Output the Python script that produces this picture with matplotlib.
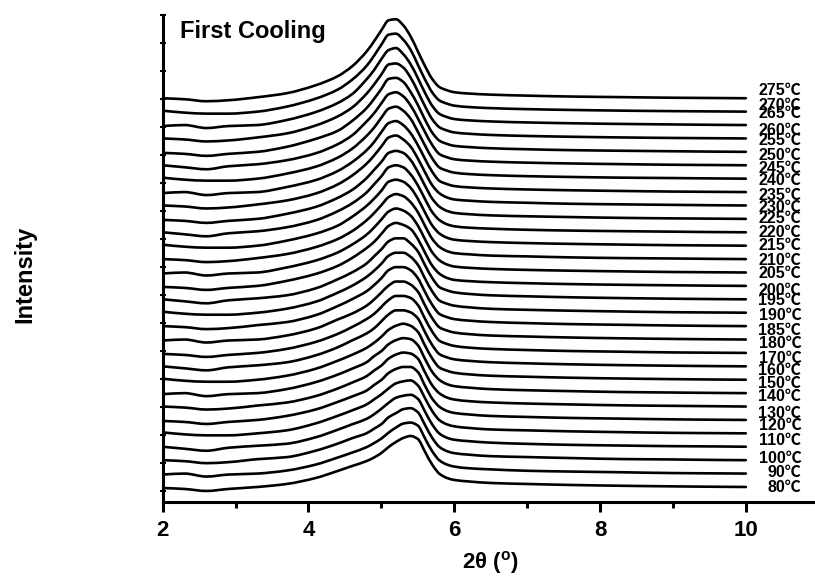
import numpy as np
import matplotlib
matplotlib.use('Agg')
import matplotlib.pyplot as plt
from matplotlib.path import Path
from matplotlib.patches import PathPatch

plt.rcParams['font.family'] = ['Liberation Sans', 'Noto Sans CJK SC', 'DejaVu Sans']
plt.rcParams['font.weight'] = 'bold'
plt.rcParams['mathtext.fontset'] = 'custom'
plt.rcParams['mathtext.rm'] = 'Liberation Sans:bold'
plt.rcParams['mathtext.bf'] = 'Liberation Sans:bold'

# 2theta sampling (deg)
two_theta = [2.0, 2.3, 2.6, 2.9, 3.3, 3.7, 4.1, 4.4, 4.6, 4.8, 4.9, 5.0, 5.1, 5.2, 5.3,
             5.4, 5.5, 5.6, 5.7, 5.8, 5.9, 6.0, 6.2, 6.5, 7.0, 7.6, 8.3, 9.0, 9.6, 10.0]

temps = [80, 90, 100, 110, 120, 130, 140, 150, 160, 170, 180,
         185, 190, 195, 200, 205, 210, 215, 220, 225, 230, 235,
         240, 245, 250, 255, 260, 265, 270, 275]

# intensity (a.u.), bottom (80C) to top (275C)
intensity = [
    [-1, -2, -4, -2, 0, 3, 9, 16, 21, 26, 29.5, 34, 40, 45, 49, 51, 48, 35, 22, 13, 9, 7, 5.5, 4.0, 3.0, 2.0, 1.2, 0.6, 0.2, 0],
    [-1, 0, -3, -1, 0, 3, 9, 16, 21, 26.5, 30.5, 35, 41, 46, 50, 51, 48, 35, 22, 13, 9, 7, 5.3, 4.2, 2.8, 2.0, 1.3, 0.5, 0.2, 0],
    [0, -1, -3, -2, 1, 3, 9.5, 16.5, 22, 27, 31.5, 36, 43, 47, 51, 52, 48, 35, 22, 13, 9, 7, 5.5, 4.0, 3.1, 2.1, 1.1, 0.7, 0.2, 0],
    [0, -2, -4, -1, 1, 3, 9.5, 17, 22.5, 28, 32.5, 38, 44, 49, 51, 52, 48, 35, 22, 13, 9, 7, 5.6, 4.1, 2.9, 1.9, 1.2, 0.6, 0.3, 0],
    [1, -1, -2, -2, 0, 3, 10, 17.5, 23, 29, 34, 39, 45, 50, 52, 53, 48, 35, 22, 13, 9, 7, 5.4, 3.9, 3.0, 2.0, 1.2, 0.5, 0.2, 0],
    [-1, -2, -4, -2, 0, 4, 10.5, 18, 23.5, 29.5, 35, 40, 47, 51, 53, 53, 48, 34, 21, 13, 9, 7, 5.5, 4.0, 3.0, 2.0, 1.3, 0.6, 0.2, 0],
    [0, -1, -3, -2, 1, 4, 10.5, 18, 24, 30.5, 36, 41, 48, 52, 54, 53, 48, 34, 21, 13, 9, 7, 5.4, 4.1, 3.0, 2.1, 1.2, 0.7, 0.3, 0],
    [-1, 0, -3, -1, 0, 4, 11, 18.5, 24.5, 31, 37, 42, 49, 53, 55, 54, 48, 34, 21, 13, 9, 7, 5.5, 4.0, 2.9, 2.0, 1.1, 0.6, 0.2, 0],
    [1, -1, -2, -2, 0, 4, 11, 19, 25, 32, 37, 43, 50, 54, 56, 54, 48, 34, 21, 12, 9, 7, 5.4, 4.0, 3.0, 2.0, 1.2, 0.6, 0.2, 0],
    [0, -2, -4, -1, 1, 4, 11, 19, 26, 33, 38, 45, 52, 56, 56, 54, 48, 34, 21, 12, 9, 7, 5.5, 4.1, 3.0, 2.0, 1.2, 0.6, 0.2, 0],
    [-1, -2, -4, -2, 0, 4, 11, 19, 26, 34, 39, 46, 53, 57, 57, 55, 48, 34, 21, 12, 9, 7, 5.3, 4.0, 2.9, 1.9, 1.2, 0.5, 0.2, 0],
    [-1, 0, -3, -1, 0, 4, 11, 20, 26, 34, 40, 47, 54, 58, 58, 55, 48, 34, 21, 12, 9, 7, 5.4, 4.0, 3.0, 2.0, 1.2, 0.6, 0.2, 0],
    [0, -1, -3, -2, 1, 4, 11, 20, 27, 35, 41, 48, 56, 59, 59, 56, 48, 34, 21, 12, 9, 7, 5.5, 4.1, 3.0, 2.0, 1.3, 0.6, 0.2, 0],
    [1, -1, -2, -2, 0, 4, 11, 20, 27, 36, 42, 49, 57, 60, 60, 56, 48, 34, 21, 12, 9, 7, 5.4, 3.9, 2.9, 2.0, 1.2, 0.5, 0.2, 0],
    [0, -2, -4, -1, 1, 4, 11, 20, 27, 36, 43, 50, 58, 61, 61, 56, 48, 34, 21, 12, 9, 7, 5.4, 4.0, 3.0, 2.0, 1.2, 0.6, 0.2, 0],
    [-1, -2, -4, -2, 0, 5, 12, 20, 28, 38, 44, 52, 60, 63, 61, 57, 47, 33, 20, 12, 8, 6, 4.8, 3.7, 2.7, 1.8, 1.1, 0.6, 0.2, 0],
    [-1, 0, -3, -1, 0, 5, 12, 20, 28, 38, 45, 53, 61, 64, 62, 57, 47, 33, 20, 12, 8, 6, 4.7, 3.6, 2.6, 1.8, 1.1, 0.5, 0.2, 0],
    [0, -1, -3, -2, 1, 5, 12, 20, 28, 39, 46, 54, 62, 65, 63, 57, 47, 33, 20, 12, 8, 6, 4.8, 3.5, 2.7, 1.7, 1.0, 0.6, 0.2, 0],
    [1, -1, -2, -2, 0, 5, 12, 20, 29, 40, 47, 55, 64, 66, 64, 58, 47, 33, 20, 12, 8, 6, 4.7, 3.6, 2.6, 1.8, 1.1, 0.5, 0.2, 0],
    [0, -2, -4, -1, 1, 5, 12, 21, 29, 40, 48, 56, 65, 67, 65, 58, 47, 33, 20, 12, 8, 6, 4.6, 3.6, 2.5, 1.7, 1.1, 0.6, 0.2, 0],
    [-1, -2, -4, -2, 0, 5, 12, 21, 29, 41, 49, 57, 66, 68, 66, 59, 47, 33, 20, 12, 8, 6, 4.7, 3.5, 2.6, 1.8, 1.0, 0.5, 0.2, 0],
    [0, -1, -3, -2, 1, 5, 12, 21, 30, 42, 50, 59, 68, 70, 66, 59, 47, 33, 20, 12, 8, 6, 4.8, 3.6, 2.7, 1.7, 1.1, 0.6, 0.2, 0],
    [-1, 0, -3, -1, 0, 5, 12, 21, 30, 42, 50, 60, 69, 71, 67, 59, 47, 33, 20, 11, 8, 6, 4.7, 3.6, 2.6, 1.8, 1.1, 0.5, 0.2, 0],
    [1, -1, -2, -2, 0, 5, 12, 21, 30, 43, 51, 61, 70, 72, 68, 60, 47, 33, 20, 11, 8, 6, 4.6, 3.5, 2.5, 1.7, 1.0, 0.6, 0.2, 0],
    [0, -2, -4, -1, 1, 5, 12, 21, 30, 44, 52, 62, 71, 73, 69, 60, 47, 33, 20, 11, 8, 6, 4.7, 3.6, 2.6, 1.8, 1.1, 0.5, 0.2, 0],
    [-1, -2, -4, -2, 0, 5, 13, 21, 31, 44, 53, 63, 73, 74, 70, 60, 47, 32, 19, 11, 8, 6, 4.8, 3.6, 2.6, 1.7, 1.1, 0.6, 0.2, 0],
    [0, -1, -3, -2, 1, 5, 13, 22, 31, 45, 54, 64, 74, 75, 71, 61, 47, 32, 19, 11, 8, 6, 4.7, 3.5, 2.5, 1.7, 1.0, 0.5, 0.2, 0],
    [-1, 0, -3, -1, 0, 5, 13, 22, 31, 46, 55, 66, 75, 77, 71, 61, 47, 32, 19, 11, 8, 6, 4.7, 3.6, 2.6, 1.8, 1.1, 0.6, 0.2, 0],
    [1, -1, -2, -2, 0, 5, 13, 22, 32, 46, 56, 67, 77, 78, 72, 62, 47, 32, 19, 11, 8, 6, 4.6, 3.5, 2.5, 1.7, 1.0, 0.5, 0.2, 0],
    [0, -1, -3, -2, 1, 5, 13, 22, 32, 47, 57, 68, 78, 79, 73, 62, 47, 32, 19, 11, 8, 6, 4.7, 3.6, 2.6, 1.7, 1.1, 0.5, 0.2, 0],
]

# where each temperature tag sits (same units as the stacked curves)
label_y = [0, 15, 29, 47, 62, 74, 91, 104, 117, 129, 144, 157, 172, 187, 197,
           214, 227, 242, 255, 269, 280, 292, 307, 319, 332, 347, 357, 374, 382, 397]

spacing = 13.41   # vertical offset between curves


def smooth_path(x, y):
    # draw the line through the read points as a smooth (monotone) bezier
    x = np.asarray(x, float)
    y = np.asarray(y, float)
    dx = np.diff(x)
    s = np.diff(y) / dx
    m = np.zeros_like(y)
    m[0], m[-1] = s[0], s[-1]
    for k in range(1, len(y) - 1):
        if s[k - 1] * s[k] > 0:
            w1 = 2 * dx[k] + dx[k - 1]
            w2 = dx[k] + 2 * dx[k - 1]
            m[k] = (w1 + w2) / (w1 / s[k - 1] + w2 / s[k])
    verts = [(x[0], y[0])]
    codes = [Path.MOVETO]
    for k in range(len(x) - 1):
        h = dx[k] / 3
        verts += [(x[k] + h, y[k] + m[k] * h),
                  (x[k + 1] - h, y[k + 1] - m[k + 1] * h),
                  (x[k + 1], y[k + 1])]
        codes += [Path.CURVE4] * 3
    return Path(verts, codes)


fig = plt.figure(figsize=(8.15, 5.83), dpi=100)
ax = fig.add_axes([0.1996, 0.139, 0.805, 0.835])

for i, (t, row) in enumerate(zip(temps, intensity)):
    p = smooth_path(two_theta, np.array(row) + i * spacing)
    ax.add_patch(PathPatch(p, fill=False, edgecolor='black', lw=1.9,
                           joinstyle='round', capstyle='round'))
    ax.text(10.76, label_y[i], '%d℃' % t, ha='right', va='center',
            fontsize=11.5, fontweight='bold')

ax.text(2.24, 449, 'First Cooling', fontsize=17, fontweight='bold', va='baseline')

ax.set_xlim(2, 11)
ax.set_ylim(-15, 472)
ax.spines['top'].set_visible(False)
ax.spines['right'].set_visible(False)
for s in ['left', 'bottom']:
    ax.spines[s].set_linewidth(2.2)

ax.set_xticks([2, 4, 6, 8, 10])
ax.set_xticks([3, 5, 7, 9], minor=True)
ax.tick_params(axis='x', which='major', direction='out', length=7, width=2.2,
               labelsize=16, pad=6)
ax.tick_params(axis='x', which='minor', direction='out', length=4.5, width=2.2)
ax.set_yticks(np.arange(472, -15, -28))
ax.set_yticklabels([])
ax.tick_params(axis='y', which='major', direction='inout', length=4, width=1.5)
for lab in ax.get_xticklabels():
    lab.set_fontweight('bold')

fig.text(25 / 815, 1 - 274 / 583, 'Intensity', rotation=90, ha='center', va='center',
         fontsize=17, fontweight='bold')
fig.text(490 / 815, 1 - 563 / 583, r'2θ ($^{\mathrm{o}}$)', ha='center', va='center',
         fontsize=16, fontweight='bold')

plt.savefig('out.png', dpi=100)
